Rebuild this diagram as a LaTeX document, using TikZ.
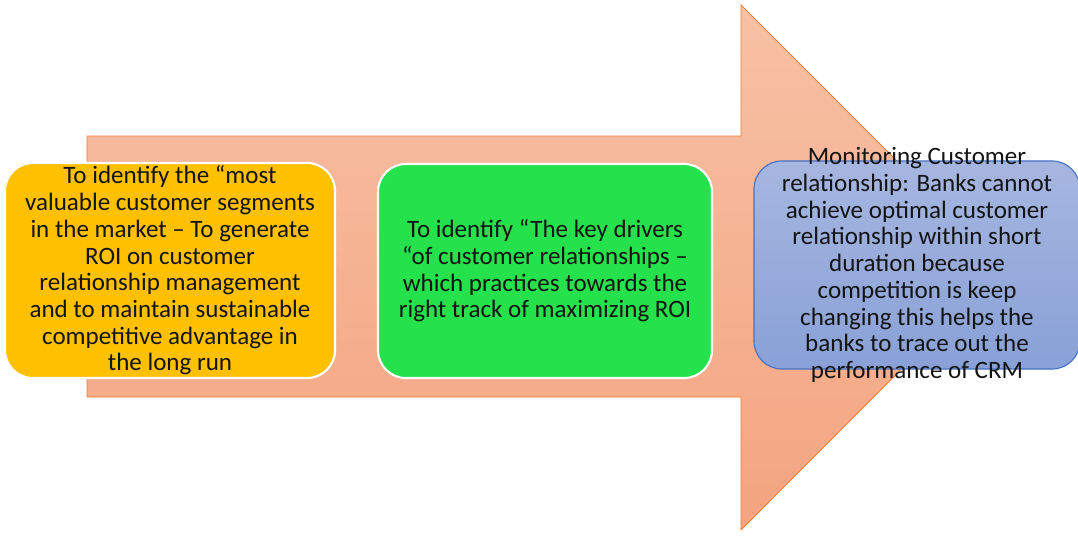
\documentclass[tikz,border=0pt]{standalone}
\usepackage{fontspec}
\setmainfont{Carlito}

\begin{document}
\begin{tikzpicture}[x=0.025cm, y=-0.025cm,
  stagebox/.style={rounded corners=0.7cm, align=center, inner sep=0pt},
  stagetext/.style={align=center, inner sep=0pt, text=inkcolor,
    font=\fontsize{17.8}{19}\selectfont}]
  \useasboundingbox (0,0) rectangle (1078,535);

  % Define colors
  \definecolor{arrowtop}{RGB}{247,193,165}   % light salmon
  \definecolor{arrowbottom}{RGB}{244,164,128}
  \definecolor{arrowline}{RGB}{237,125,49}   % orange outline
  \definecolor{segmentcolor}{RGB}{255,192,0} % yellow
  \definecolor{drivercolor}{RGB}{36,225,76}  % green
  \definecolor{monitortop}{RGB}{166,182,224} % blue
  \definecolor{monitorbottom}{RGB}{137,161,215}
  \definecolor{monitorline}{RGB}{68,114,196}
  \definecolor{inkcolor}{RGB}{20,20,20}

  % Draw the big arrow
  \draw[arrowline, top color=arrowtop, bottom color=arrowbottom, line width=0.6pt]
    (87,136) -- (741,136) -- (741,5) -- (1003,267) -- (741,530)
    -- (741,397) -- (87,397) -- cycle;

  % Draw the three stages
  \node[stagebox, stagetext, fill=segmentcolor, draw=white, line width=1.5pt,
    minimum width=8.25cm, minimum height=5.375cm] (segments) at (170,270.5)
    {To identify the “most\\ valuable customer segments\\ in the market -- To generate\\
     ROI on customer\\ relationship management\\ and to maintain sustainable\\
     competitive advantage in\\ the long run};

  \node[stagebox, stagetext, fill=drivercolor, draw=white, line width=1.5pt,
    minimum width=8.35cm, minimum height=5.35cm] (drivers) at (545,271)
    {To identify “The key drivers\\ “of customer relationships --\\
     which practices towards the\\ right track of maximizing ROI};

  \node[stagebox, draw=monitorline, top color=monitortop, bottom color=monitorbottom,
    line width=0.8pt, minimum width=8.15cm, minimum height=5.2cm] (monitor) at (917,265) {};
  \node[stagetext] (monitortext) at (monitor)
    {Monitoring Customer\\ relationship: Banks cannot\\ achieve optimal customer\\
     relationship within short\\ duration because\\ competition is keep\\
     changing this helps the\\ banks to trace out the\\ performance of CRM};
\end{tikzpicture}
\end{document}
